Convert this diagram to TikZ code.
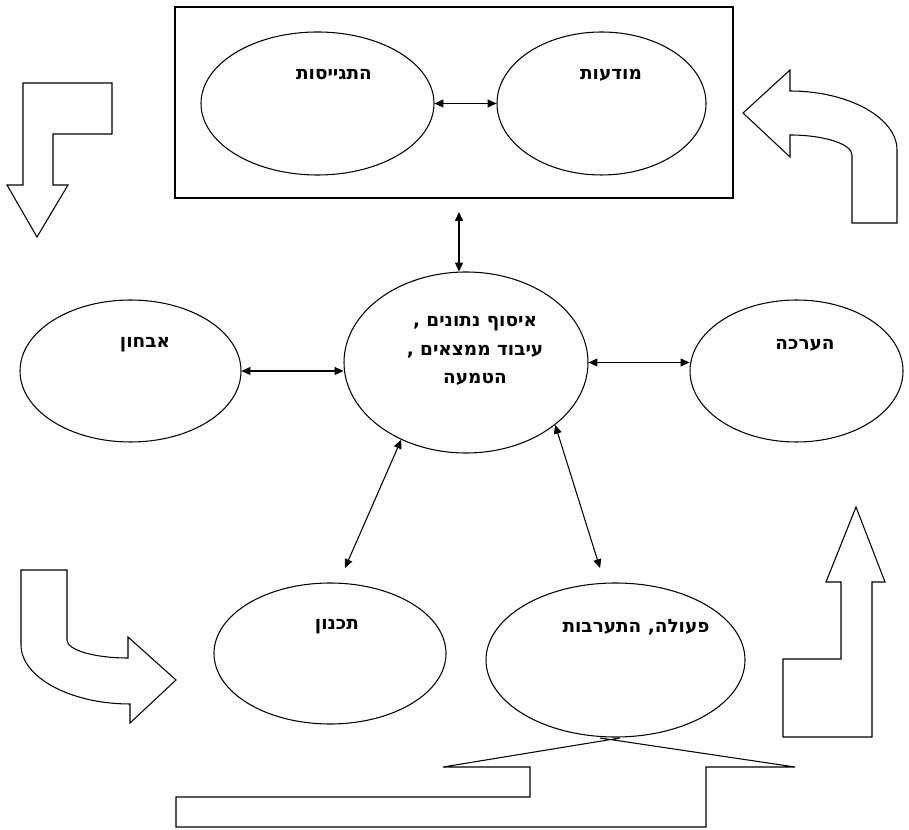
\documentclass[tikz,border=0pt]{standalone}
\usepackage{fontspec}
\newfontfamily\hebfont[Script=Hebrew]{DejaVu Sans}
\TeXXeTstate=1
\usetikzlibrary{arrows.meta,shapes.geometric}
\newcommand{\heb}[1]{{\hebfont\bfseries\beginR #1\endR}}

\begin{document}
\begin{tikzpicture}[x=0.02cm, y=-0.02cm, line width=0.6pt,
    bubble/.style 2 args={ellipse, draw, minimum width=#1*0.02cm, minimum height=#2*0.02cm, inner sep=0pt},
    lbl/.style={font=\fontsize{10.5}{16}\selectfont, inner sep=0pt, align=center},
    link/.style={{Triangle[length=5pt,width=4.5pt]}-{Triangle[length=5pt,width=4.5pt]}},
    block/.style={draw, line join=miter}]
    \useasboundingbox (0,0) rectangle (909,830);

    % Draw the top frame
    \draw (175,7) rectangle (733,198);

    % Draw ellipses
    \node[bubble={233}{143}] (mobil) at (317.5,103.5) {};
    \node[bubble={209}{143}] (aware) at (601.5,103.5) {};
    \node[bubble={244}{181}] (core) at (466,362.5) {};
    \node[bubble={221}{142}] (diag) at (130.5,371) {};
    \node[bubble={213}{142}] (eval) at (796.5,371) {};
    \node[bubble={232}{141}] (plan) at (330,653.5) {};
    \node[bubble={259}{154}] (act) at (615.5,660) {};

    % Draw labels
    \node[lbl] (tmobil) at (334,75) {\heb{התגייסות}};
    \node[lbl] (taware) at (611,75) {\heb{מודעות}};
    \node[lbl] (tcore) at (475,351) {\heb{איסוף נתונים ,}\\\heb{עיבוד ממצאים ,}\\\heb{הטמעה}};
    \node[lbl] (tdiag) at (145,345) {\heb{אבחון}};
    \node[lbl] (teval) at (805,345) {\heb{הערכה}};
    \node[lbl] (tplan) at (337,627) {\heb{תכנון}};
    \node[lbl] (tact) at (636,627) {\heb{פעולה, התערבות}};

    % Draw links
    \coordinate (boxlow) at (459,212);
    \coordinate (planend) at (345,568);
    \coordinate (actend) at (600,568);
    \draw[link] (mobil.east) -- (aware.west);
    \draw[link] (boxlow) -- (boxlow |- core.north);
    \draw[link] (diag.east) -- (diag.east -| core.west);
    \draw[link] (core.east) -- (core.east -| eval.west);
    \draw[link] (core.230) -- (planend);
    \draw[link] (core.325) -- (actend);

    % Draw block arrows
    \draw[block] (23,83) -- (112,83) -- (112,134) -- (53,134) -- (53,185) -- (68,185)
        -- (37,237) -- (7,185) -- (23,185) -- cycle;
    \draw[block] (743,113) -- (790,70) -- (790,91) .. controls (849,91) and (897,118) .. (897,150)
        -- (897,223) -- (852,223) -- (852,155) .. controls (852,144) and (824,135) .. (790,135)
        -- (790,157) -- cycle;
    \draw[block] (21,570) -- (67,570) -- (67,640) .. controls (67,650) and (94,658) .. (128,658)
        -- (128,637) -- (176,680) -- (130,723) -- (130,704) .. controls (70,704) and (21,677) .. (21,645)
        -- cycle;
    \draw[block] (856,507) -- (885,582) -- (872,582) -- (872,737) -- (783,737) -- (783,659)
        -- (841,659) -- (841,582) -- (826,582) -- cycle;

    % Draw the bottom arrow
    \draw[block] (620,738) -- (443,767) -- (530,767) -- (530,797) -- (176,797) -- (176,827)
        -- (706,827) -- (706,767) -- (795,767) -- (600,738);
\end{tikzpicture}
\end{document}
